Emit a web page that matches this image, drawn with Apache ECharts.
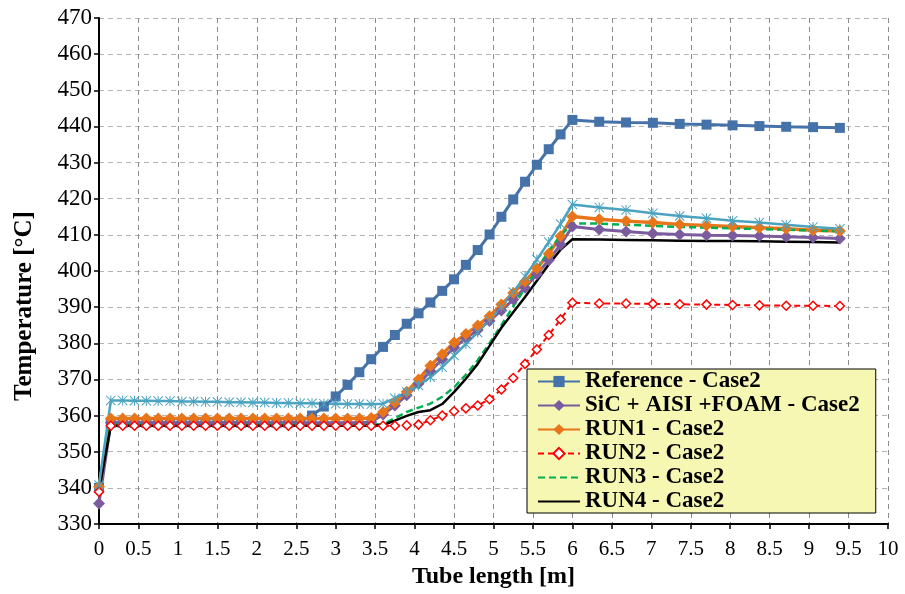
<!DOCTYPE html>
<html>
<head>
<meta charset="utf-8">
<script src="https://cdn.jsdelivr.net/npm/echarts@6/dist/echarts.min.js"></script>
<style>html,body{margin:0;padding:0;background:#fff}#c{width:905px;height:594px}</style>
</head>
<body>
<div id="c"></div>
<script>
// Tube length positions (m)
const xPos = [0, 0.15, 0.30, 0.45, 0.60, 0.75, 0.90, 1.05, 1.20, 1.35, 1.50, 1.65, 1.80, 1.95, 2.10, 2.25, 2.40,
  2.55, 2.70, 2.85, 3.00, 3.15, 3.30, 3.45, 3.60, 3.75, 3.90, 4.05, 4.20, 4.35, 4.50, 4.65, 4.80, 4.95,
  5.10, 5.25, 5.40, 5.55, 5.70, 5.85, 6.00,
  6.34, 6.68, 7.02, 7.36, 7.70, 8.03, 8.37, 8.71, 9.05, 9.39];

const refCase2 = [340,
  358.0, 358.0, 358.0, 358.0, 358.0, 358.0, 358.0, 358.0, 358.0, 358.0, 358.0, 358.0, 358.0, 358.0, 358.0, 358.0,
  358.3, 360.0, 362.5, 365.3, 368.5, 372.0, 375.6, 379.0, 382.3, 385.4, 388.3, 391.3, 394.5, 397.7, 401.7, 405.8, 410.1,
  415.0, 419.8, 424.7, 429.4, 433.7, 437.8, 441.8,
  441.3, 441.1, 441.0, 440.7, 440.5, 440.3, 440.1, 439.9, 439.8, 439.6];

const sicCase2 = [335.7,
  358.0, 358.0, 358.0, 358.0, 358.0, 358.0, 358.0, 358.0, 358.0, 358.0, 358.0, 358.0, 358.0, 358.0, 358.0, 358.0,
  358.0, 358.0, 358.0, 358.0, 358.0, 358.0, 358.2, 360.3, 362.8, 365.6, 368.8, 372.3, 375.6, 378.8, 381.4, 383.7, 386.2,
  389.1, 392.1, 395.4, 399.1, 403.0, 407.3, 412.3,
  411.5, 410.9, 410.4, 410.1, 409.9, 409.8, 409.7, 409.5, 409.3, 409.0];

const run1Case2 = [340.3,
  359.2, 359.2, 359.2, 359.2, 359.2, 359.2, 359.2, 359.2, 359.2, 359.2, 359.2, 359.2, 359.2, 359.2, 359.2, 359.2,
  359.2, 359.2, 359.2, 359.2, 359.2, 359.2, 359.3, 361.0, 363.6, 366.6, 370.0, 373.8, 377.0, 380.2, 382.6, 384.9, 387.5,
  390.7, 393.9, 397.1, 400.7, 404.8, 409.6, 415.1,
  414.3, 413.8, 413.4, 412.9, 412.6, 412.3, 412.0, 411.7, 411.3, 411.1];

const run2Case2 = [338.9,
  357.2, 357.2, 357.2, 357.2, 357.2, 357.2, 357.2, 357.2, 357.2, 357.2, 357.2, 357.2, 357.2, 357.2, 357.2, 357.2,
  357.2, 357.2, 357.2, 357.2, 357.2, 357.2, 357.2, 357.2, 357.2, 357.3, 357.5, 358.7, 360.0, 361.2, 362.0, 362.8, 364.5,
  367.2, 370.4, 374.3, 378.3, 382.3, 386.6, 391.2,
  391.0, 391.0, 390.9, 390.8, 390.7, 390.6, 390.5, 390.4, 390.4, 390.3];

const run3Case2 = [340.0,
  357.6, 357.6, 357.6, 357.6, 357.6, 357.6, 357.6, 357.6, 357.6, 357.6, 357.6, 357.6, 357.6, 357.6, 357.6, 357.6,
  357.6, 357.6, 357.6, 357.6, 357.6, 357.6, 357.6, 357.6, 359.3, 361.0, 362.2, 363.3, 365.2, 367.8, 371.3, 375.3, 380.0,
  385.0, 390.2, 395.2, 400.5, 405.5, 409.8, 413.2,
  413.1, 412.8, 412.5, 412.2, 412.0, 411.8, 411.6, 411.4, 411.2, 411.0];

const run4Case2 = [339.3,
  357.2, 357.2, 357.2, 357.2, 357.2, 357.2, 357.2, 357.2, 357.2, 357.2, 357.2, 357.2, 357.2, 357.2, 357.2, 357.2,
  357.2, 357.2, 357.2, 357.2, 357.2, 357.2, 357.2, 357.4, 358.6, 359.9, 361.0, 361.5, 363.2, 366.5, 370.2, 374.3, 379.3,
  384.3, 388.6, 392.8, 397.3, 401.8, 405.9, 408.8,
  408.7, 408.6, 408.5, 408.4, 408.3, 408.3, 408.2, 408.1, 408.0, 407.9];

// unlabelled series (cyan, asterisk markers; not in legend)
const extraSeries = [340.8,
  364.2, 364.2, 364.1, 364.1, 364.0, 364.0, 363.9, 363.9, 363.8, 363.8, 363.7, 363.7, 363.6, 363.6, 363.5, 363.5,
  363.4, 363.4, 363.3, 363.3, 363.2, 363.2, 363.1, 363.3, 364.8, 366.5, 368.3, 370.6, 373.4, 376.6, 379.8, 383.0, 386.4,
  390.0, 394.2, 398.5, 403.2, 408.0, 413.0, 418.4,
  417.6, 416.9, 416.0, 415.2, 414.6, 413.9, 413.4, 412.8, 412.2, 411.7];

const seriesNames = ['Reference - Case2', 'SiC + AISI +FOAM - Case2', 'RUN1 - Case2', 'RUN2 - Case2', 'RUN3 - Case2', 'RUN4 - Case2'];

const xMin = 0, xMax = 10, xStep = 0.5;
const yMin = 330, yMax = 470, yStep = 10;

const pairs = arr => xPos.map((x, i) => [x, arr[i]]);
const FONT = '"Liberation Serif", "Times New Roman", serif';
const asterisk = 'path://M9,0L11,0L11,20L9,20Z M0,1.4L1.4,0L20,18.6L18.6,20Z M18.6,0L20,1.4L1.4,20L0,18.6Z';

const legendData = seriesNames.map((n, i) => i >= 4 ? {name: n, itemStyle: {opacity: 0}} : {name: n});

const chart = echarts.init(document.getElementById('c'), null, {renderer: 'canvas'});
chart.setOption({
  animation: false,
  backgroundColor: '#fff',
  grid: {left: 99, right: 17, top: 18, bottom: 70, containLabel: false},
  xAxis: {
    type: 'value', min: xMin, max: xMax, interval: xStep,
    name: 'Tube length [m]', nameLocation: 'middle', nameGap: 41,
    nameTextStyle: {fontFamily: FONT, fontWeight: 'bold', fontSize: 24, color: '#000'},
    axisLine: {show: true, onZero: false, lineStyle: {color: '#000', width: 2}},
    axisTick: {show: true, length: 5, lineStyle: {color: '#000', width: 1.5}},
    axisLabel: {fontFamily: FONT, fontSize: 21, color: '#000', margin: 15},
    splitLine: {show: true, lineStyle: {color: '#8c8c8c', type: [5, 4], width: 1}}
  },
  yAxis: {
    type: 'value', min: yMin, max: yMax, interval: yStep,
    name: 'Temperature [°C]', nameLocation: 'middle', nameGap: 62, nameRotate: 90,
    nameTextStyle: {fontFamily: FONT, fontWeight: 'bold', fontSize: 25, color: '#000', padding: [0, 70, 0, 0]},
    axisLine: {show: true, lineStyle: {color: '#000', width: 2}},
    axisTick: {show: true, length: 5, lineStyle: {color: '#000', width: 1.5}},
    axisLabel: {fontFamily: FONT, fontSize: 23, color: '#000', margin: 7},
    splitLine: {show: true, lineStyle: {color: '#b4b4b4', type: [5, 4], width: 1}}
  },
  legend: {
    data: legendData,
    orient: 'vertical', left: 527, top: 369,
    padding: [1, 16, 0, 10], itemGap: 1, itemWidth: 42, itemHeight: 14,
    backgroundColor: '#f7f7b4', borderColor: '#000', borderWidth: 1, borderRadius: 0,
    textStyle: {fontFamily: FONT, fontWeight: 'bold', fontSize: 23, color: '#000', lineHeight: 23}
  },
  series: [
    {name: seriesNames[0], type: 'line', data: pairs(refCase2), symbol: 'rect', symbolSize: 10,
     lineStyle: {color: '#4672AA', width: 3}, itemStyle: {color: '#4672AA'}},
    {name: seriesNames[1], type: 'line', data: pairs(sicCase2), symbol: 'diamond', symbolSize: 12,
     lineStyle: {color: '#7A5C9E', width: 3}, itemStyle: {color: '#7A5C9E'}},
    {name: seriesNames[2], type: 'line', data: pairs(run1Case2), symbol: 'diamond', symbolSize: 12,
     lineStyle: {color: '#E8751A', width: 3.5}, itemStyle: {color: '#E8751A'}},
    {name: seriesNames[3], type: 'line', data: pairs(run2Case2), symbol: 'diamond', symbolSize: 9,
     lineStyle: {color: '#FF0000', width: 2, type: [6, 4]},
     itemStyle: {color: '#ffffff', borderColor: '#FF0000', borderWidth: 1.5}},
    {name: seriesNames[4], type: 'line', data: pairs(run3Case2), symbol: 'none',
     lineStyle: {color: '#00B050', width: 2.5, type: [7, 4]}, itemStyle: {color: '#00B050'}},
    {name: seriesNames[5], type: 'line', data: pairs(run4Case2), symbol: 'none',
     lineStyle: {color: '#000000', width: 2.5}, itemStyle: {color: '#000000'}},
    {name: 'Series 7', type: 'line', data: pairs(extraSeries), symbol: asterisk, symbolSize: 10,
     lineStyle: {color: '#4BA3BF', width: 2.5}, itemStyle: {color: '#4BA3BF'}}
  ]
});
</script>
</body>
</html>
